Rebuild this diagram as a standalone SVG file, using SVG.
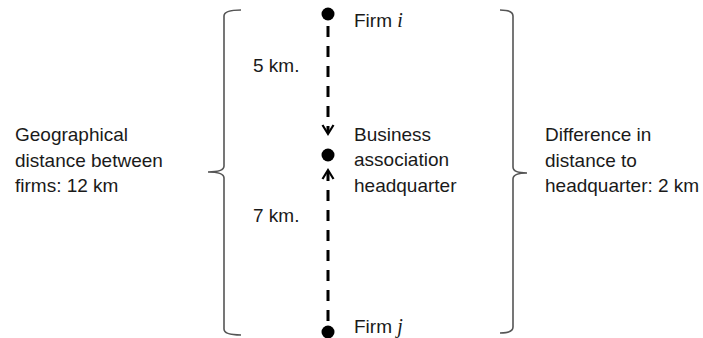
<svg xmlns="http://www.w3.org/2000/svg" width="703" height="338" viewBox="0 0 703 338">
<style>
text{font-family:"Liberation Sans",Arial,sans-serif;font-size:19px;fill:#1a1a1a}
.it{font-family:"Liberation Serif","DejaVu Serif",serif;font-style:italic;font-size:20px}
.br{fill:none;stroke:#555;stroke-width:1.6}
.dash{fill:none;stroke:#000;stroke-width:3;stroke-dasharray:11 9}
.head{fill:none;stroke:#000;stroke-width:2.2}
.dot{fill:#000}
</style>
<rect width="703" height="338" fill="#fff"/>
<g id="connectors">
<path class="dash" d="M328,26 L328,133"/>
<path class="head" d="M322.5,125 L328,134 L333.5,125"/>
<path class="dash" d="M328,321 L328,172"/>
<path class="head" d="M322.5,179 L328,170 L333.5,179"/>
</g>
<g id="bracket-left">
<path class="br" d="M241,10 Q224,10 224,16 L224,166 Q224,172 208,172 Q224,172 224,178 L224,329 Q224,335 241,335"/>
</g>
<g id="bracket-right">
<path class="br" d="M500,10 Q513,10 513,16 L513,167 Q513,173 527,173 Q513,173 513,179 L513,327 Q513,333 500,333"/>
</g>
<g id="firm-i">
<circle class="dot" cx="328" cy="14" r="6.5"/>
<text x="354" y="27">Firm <tspan class="it">i</tspan></text>
</g>
<g id="headquarter">
<circle class="dot" cx="328" cy="155" r="6.5"/>
<text x="354" y="141">Business</text>
<text x="354" y="166">association</text>
<text x="354" y="192">headquarter</text>
</g>
<g id="firm-j">
<circle class="dot" cx="328" cy="332" r="6.5"/>
<text x="354" y="333">Firm <tspan class="it">j</tspan></text>
</g>
<g id="label-5km"><text x="253" y="72">5 km.</text></g>
<g id="label-7km"><text x="253" y="222">7 km.</text></g>
<g id="label-geo">
<text x="15" y="141">Geographical</text>
<text x="15" y="167">distance between</text>
<text x="15" y="192">firms: 12 km</text>
</g>
<g id="label-diff">
<text x="545" y="141">Difference in</text>
<text x="545" y="167">distance to</text>
<text x="545" y="192">headquarter: 2 km</text>
</g>
</svg>
